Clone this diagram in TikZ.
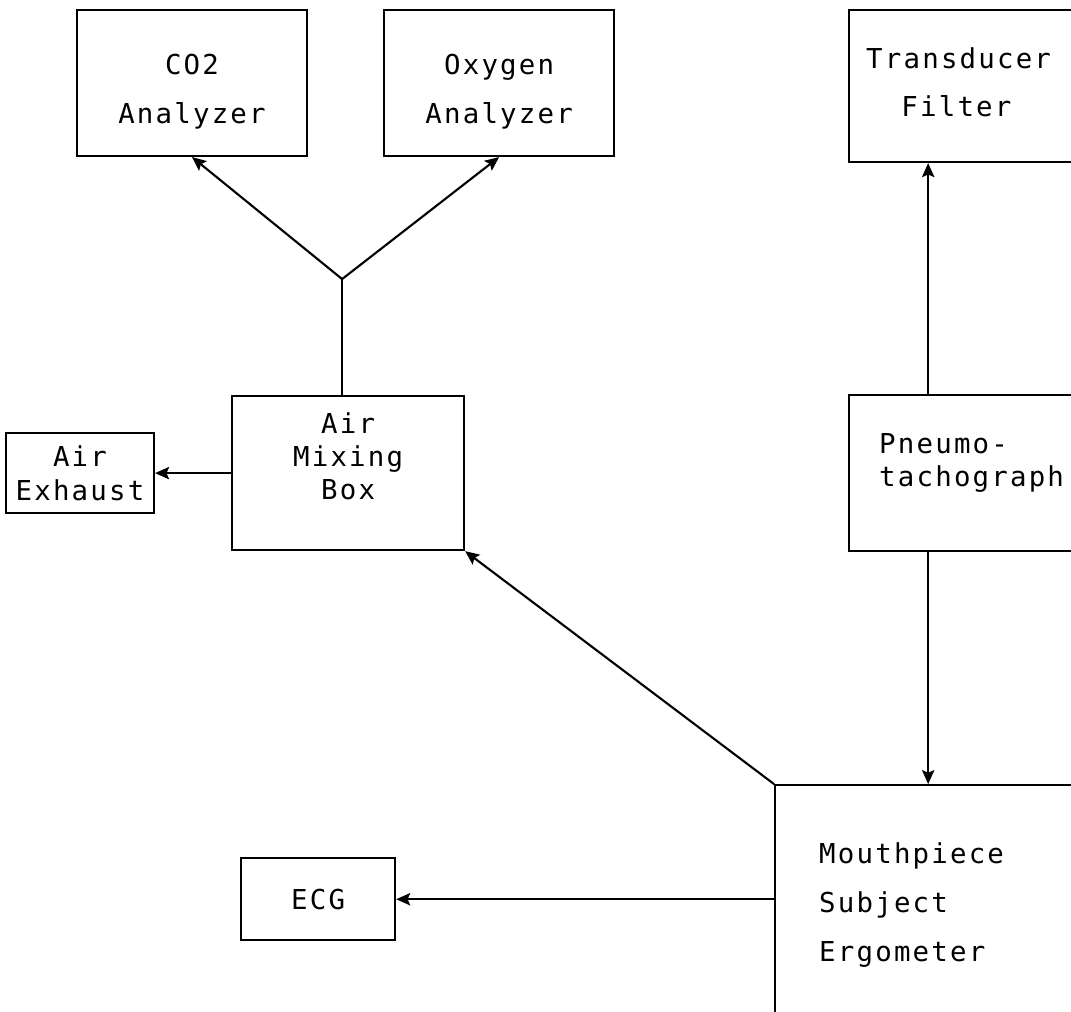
\documentclass[tikz,border=0pt]{standalone}
\usepackage{fontspec}
\newfontfamily\typefont{DejaVu Sans Mono}[LetterSpace=8]
\usepackage{tikz}
\usetikzlibrary{arrows.meta, positioning}
\tikzstyle{unit} = [rectangle, line width=1.2pt, draw=black, align=center, inner sep=0pt, font=\typefont\fontsize{15.6}{19}\selectfont]
\tikzstyle{flow} = [line width=1.2pt,->,>={Stealth[length=8pt,width=7pt,inset=1.5pt]}]

\begin{document}
\begin{tikzpicture}[node distance = 10mm, auto]
		\useasboundingbox (0,0) rectangle (21.42,-20.22);
		\node (CO2) [unit, minimum width=4.6cm, minimum height=2.92cm, text height=49pt] at (3.84,-1.66) {CO2\\[8.5pt]Analyzer};
		\node (Oxygen) [unit, minimum width=4.6cm, minimum height=2.92cm, text height=49pt, right = 1.5cm of CO2] {Oxygen\\[8.5pt]Analyzer};
		\node (Transducer) [unit, align=left, text width=4.6cm, inner xsep=0.34cm, minimum height=3.04cm, text depth=32pt, right = 4.66cm of Oxygen, yshift=-0.06cm] {Transducer\\[8.5pt]\phantom{Tr}Filter};
		\node (Pneumo) [unit, align=left, text width=4.2cm, inner xsep=0.6cm, minimum height=3.12cm, text depth=34pt, below = 4.62cm of Transducer.south west, anchor=north west] {Pneumo-\\tachograph};
		\node (Mouthpiece) [unit, align=left, text width=5cm, inner xsep=0.88cm, minimum height=4.8cm, below = 4.64cm of Pneumo.south west, anchor=north west, xshift=-1.48cm] {Mouthpiece\\[9pt]Subject\\[9pt]Ergometer};
		\node (AirMix) [unit, minimum width=4.64cm, minimum height=3.08cm, text depth=0.68cm, left = 7.66cm of Pneumo] {Air\\Mixing\\Box};
		\node (AirExhaust) [unit, minimum width=2.96cm, minimum height=1.6cm, left = 1.52cm of AirMix] {Air\\Exhaust};
		\node (ECG) [unit, minimum width=3.08cm, minimum height=1.64cm, left = 7.56cm of Mouthpiece, yshift=0.12cm] {ECG};
		\coordinate [above = 2.32cm of AirMix, xshift=-0.12cm] (Split);
		\coordinate (PneumoTap) at ([xshift=1.6cm]Pneumo.north west);
		\draw [line width=1.2pt] (Split |- AirMix.north) -- (Split);
		\draw [flow] (Split) -- (CO2.south);
		\draw [flow] (Split) -- (Oxygen.south);
		\draw [flow] (AirMix) -- (AirExhaust);
		\draw [flow] (PneumoTap) -- (PneumoTap |- Transducer.south);
		\draw [flow] (PneumoTap |- Pneumo.south) -- (PneumoTap |- Mouthpiece.north);
		\draw [flow] (Mouthpiece.north west) -- (AirMix.south east);
		\draw [flow] (Mouthpiece.west |- ECG) -- (ECG);
\end{tikzpicture}
\end{document}
